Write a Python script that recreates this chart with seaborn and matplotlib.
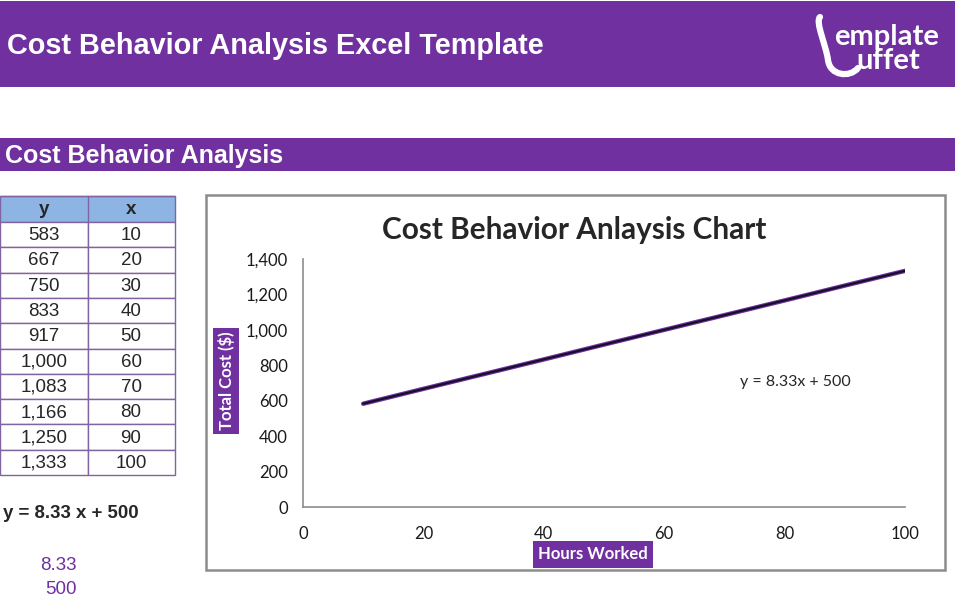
import numpy as np
import pandas as pd
import matplotlib
matplotlib.use("Agg")
import matplotlib.pyplot as plt
from matplotlib.patches import Rectangle
from matplotlib.path import Path
from matplotlib.patches import PathPatch
import seaborn as sns

# ---- data ----
hours = [10, 20, 30, 40, 50, 60, 70, 80, 90, 100]
total_cost = [583, 667, 750, 833, 917, 1000, 1083, 1166, 1250, 1333]
y_ticks = [0, 200, 400, 600, 800, 1000, 1200, 1400]
x_ticks = [0, 20, 40, 60, 80, 100]
page_title = "Cost Behavior Analysis Excel Template"
section_title = "Cost Behavior Analysis"
chart_title = "Cost Behavior Anlaysis Chart"
x_label = "Hours Worked"
y_label = "Total Cost ($)"

df = pd.DataFrame({"x": hours, "y": total_cost})
slope, intercept = np.polyfit(df["x"], df["y"], 1)
slope_r = round(slope, 2)
intercept_r = round(intercept)

PURPLE = "#7030A0"
HEADER_BLUE = "#8DB4E2"
GRID_PURPLE = "#8064A2"

sns.set_theme(style="white")
plt.rcParams["font.family"] = ["Liberation Sans", "DejaVu Sans"]

W, H = 955, 603
fig = plt.figure(figsize=(W / 100, H / 100), dpi=100)
fig.patch.set_facecolor("white")

# background canvas in pixel coords
bg = fig.add_axes([0, 0, 1, 1], zorder=0)
bg.set_xlim(0, W)
bg.set_ylim(H, 0)
bg.axis("off")

# top banner
bg.add_patch(Rectangle((0, 1), W, 86, facecolor=PURPLE, edgecolor="none"))
bg.text(7, 46, page_title, color="white", fontsize=20.8, fontweight="bold",
        va="center", ha="left")

# logo (approximation)
bg.text(834, 37, "emplate", color="white", fontsize=21, fontweight="bold",
        va="center", ha="left", family=["Lato", "DejaVu Sans"])
bg.text(856, 61, "uffet", color="white", fontsize=21, fontweight="bold",
        va="center", ha="left", family=["Lato", "DejaVu Sans"])
ladle = Path([(820, 17), (815, 22), (826, 45), (828, 60),
              (830, 76), (850, 78), (858, 68)],
             [Path.MOVETO, Path.CURVE4, Path.CURVE4, Path.CURVE4,
              Path.CURVE4, Path.CURVE4, Path.CURVE4])
bg.add_patch(PathPatch(ladle, facecolor="none", edgecolor="white", lw=4.5,
                       capstyle="round"))

# section bar
bg.add_patch(Rectangle((0, 138), W, 33, facecolor=PURPLE, edgecolor="none"))
bg.text(5, 156, section_title, color="white", fontsize=18, fontweight="bold",
        va="center", ha="left")

# data table
col_x = [0, 88, 175]
top = 196
head_h = 26
row_h = 25.3
bg.add_patch(Rectangle((0, top), col_x[2], head_h, facecolor=HEADER_BLUE,
                       edgecolor=GRID_PURPLE, lw=1))
bg.text(44, top + head_h / 2 + 1, "y", fontsize=13.5, fontweight="bold",
        ha="center", va="center")
bg.text(131, top + head_h / 2 + 1, "x", fontsize=13.5, fontweight="bold",
        ha="center", va="center")
for i, (yy, xx) in enumerate(zip(total_cost, hours)):
    r0 = top + head_h + i * row_h
    for c in range(2):
        bg.add_patch(Rectangle((col_x[c], r0), col_x[c + 1] - col_x[c], row_h,
                               facecolor="white", edgecolor=GRID_PURPLE, lw=1))
    bg.text(44, r0 + row_h / 2 + 1, f"{yy:,}", fontsize=13.5, ha="center",
            va="center")
    bg.text(131, r0 + row_h / 2 + 1, f"{xx}", fontsize=13.5, ha="center",
            va="center")
bg.plot([0, col_x[2]], [top, top], color=GRID_PURPLE, lw=1)
bg.plot([col_x[1], col_x[1]], [top, top + head_h], color=GRID_PURPLE, lw=1)

# equation below table
bg.text(3, 514, f"y = {slope_r:.2f} x + {intercept_r}", fontsize=13.4,
        fontweight="bold", ha="left", va="center")
bg.text(77, 565, f"{slope_r:.2f}", fontsize=13.5, color=PURPLE, ha="right",
        va="center")
bg.text(77, 590, f"{intercept_r}", fontsize=13.5, color=PURPLE, ha="right",
        va="center")

# chart frame
bg.add_patch(Rectangle((206, 195), 739, 375, facecolor="white",
                       edgecolor="#8c8c8c", lw=1.8))

# ---- chart ----
x0, x1 = 303, 905
y0, y1 = 507, 259
ax = fig.add_axes([x0 / W, (H - y0) / H, (x1 - x0) / W, (y0 - y1) / H],
                  zorder=1)
ax.patch.set_alpha(0)
sns.lineplot(data=df, x="x", y="y", ax=ax, color=PURPLE, lw=3.2)
xs = np.array([min(hours), max(hours)])
ax.plot(xs, slope * xs + intercept, color="#14102a", lw=1.6)

ax.set_xlim(0, 100)
ax.set_ylim(0, 1400)
ax.set_xticks(x_ticks)
ax.set_yticks(y_ticks)
ax.set_yticklabels([f"{v:,}" for v in y_ticks])
tick_font = ["Lato", "DejaVu Sans"]
for lab in ax.get_xticklabels() + ax.get_yticklabels():
    lab.set_family(tick_font)
    lab.set_fontsize(12)
    lab.set_color("#1a1a1a")
ax.tick_params(axis="both", length=0)
ax.tick_params(axis="y", pad=11)
ax.tick_params(axis="x", pad=14)
for s in ["top", "right"]:
    ax.spines[s].set_visible(False)
for s in ["left", "bottom"]:
    ax.spines[s].set_color("#8c8c8c")
    ax.spines[s].set_linewidth(1.2)

ax.set_xlabel(x_label, family=tick_font, fontsize=12, fontweight="bold",
              color="white",
              bbox=dict(facecolor=PURPLE, edgecolor="none", pad=4))
ax.xaxis.set_label_coords((593 - x0) / (x1 - x0), -(554 - y0) / (y0 - y1))
ax.xaxis.label.set_va("center")
ax.set_ylabel(y_label, family=tick_font, fontsize=12, fontweight="bold",
              color="white",
              bbox=dict(facecolor=PURPLE, edgecolor="none", pad=3))
ax.yaxis.set_label_coords((226 - x0) / (x1 - x0), (y0 - 381) / (y0 - y1))
ax.yaxis.label.set_va("center")

ax.text((795 - x0) / (x1 - x0), (y0 - 382) / (y0 - y1),
        f"y = {slope_r:.2f}x + {intercept_r}", transform=ax.transAxes,
        family=tick_font, fontsize=11.5, ha="center", va="center")

fig.text(574 / W, 1 - 230 / H, chart_title, family=tick_font, fontsize=21.4,
         fontweight="bold", ha="center", va="center")

fig.savefig("out.png", dpi=100)
